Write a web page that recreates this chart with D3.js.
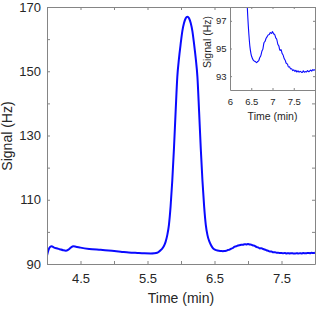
<!DOCTYPE html>
<html>
<head>
<meta charset="utf-8">
<script src="https://cdn.jsdelivr.net/npm/d3@7"></script>
<style>
	body { margin: 0; background: #fff; }
	svg { display: block; font-family: "Liberation Sans", Arial, Helvetica, sans-serif; }
	.axis path { stroke: #858585; fill: none; }
	.axis line { stroke: #858585; }
	.axis text { fill: #262626; }
</style>
</head>
<body>
<div id="chart"></div>
<script>
// time (min) and signal (Hz)
var time = [4.00, 4.02, 4.045, 4.07, 4.10, 4.14, 4.19, 4.24, 4.28, 4.32, 4.36, 4.39, 4.43, 4.50,
	4.63, 4.80, 4.97, 5.10, 5.22, 5.35, 5.45, 5.55, 5.60, 5.645, 5.67, 5.695, 5.72, 5.745, 5.77,
	5.795, 5.82, 5.845, 5.87, 5.895, 5.92, 5.945, 5.97, 5.995, 6.02, 6.045, 6.07, 6.095, 6.12,
	6.145, 6.17, 6.195, 6.22, 6.245, 6.27, 6.295, 6.32, 6.345, 6.37, 6.395, 6.42, 6.445, 6.47,
	6.495, 6.525, 6.565, 6.60, 6.625, 6.65, 6.675, 6.70,
	6.725, 6.75, 6.775, 6.80, 6.825, 6.85, 6.875, 6.90, 6.925, 6.95, 6.975, 7.00, 7.025, 7.05,
	7.075, 7.10, 7.125, 7.15, 7.175, 7.20, 7.225, 7.25, 7.275, 7.30, 7.325, 7.35, 7.375, 7.40,
	7.425, 7.45, 7.475, 7.50, 7.525, 7.55, 7.575, 7.60, 7.625, 7.65, 7.675, 7.70, 7.725, 7.75,
	7.775, 7.80, 7.825, 7.85, 7.875, 7.90, 7.925, 7.95, 7.975, 8.00];
var signal = [92.6, 94.2, 95.3, 95.5, 95.2, 94.9, 94.6, 94.3, 94.15, 94.5, 95.2, 95.5, 95.4, 95.1,
	94.7, 94.4, 94.1, 93.85, 93.6, 93.45, 93.35, 93.3, 93.35, 93.5, 93.8, 94.3, 94.8, 95.6, 96.9,
	99.0, 102.2, 108, 116, 126, 137.5, 148.3, 154, 158.5, 162.5, 165.0, 166.5, 167, 166.5,
	165.0, 162.5, 158.5, 154, 148.3, 137.5, 126, 116, 108, 102.2, 99.0, 97.2, 96.0, 95.1,
	94.6, 94.3, 94.1, 94.05, 93.98, 94.06, 94.12, 94.34,
	94.48, 94.79, 94.98, 95.42, 95.52, 95.74, 95.86, 95.98, 96.02, 96.16, 96.08, 96.22, 96.06, 96.02,
	95.78, 95.66, 95.32, 95.18, 94.86, 94.92, 94.66, 94.52, 94.28, 94.14, 93.92, 93.88, 93.66, 93.68,
	93.52, 93.54, 93.40, 93.46, 93.34, 93.42, 93.30, 93.38, 93.28, 93.36, 93.30, 93.26, 93.38, 93.28,
	93.34, 93.30, 93.40, 93.32, 93.38, 93.44, 93.36, 93.48, 93.42, 93.50];

// axes
var xDomain = [4, 8];
var yDomain = [90, 170];
var xTicks = [4, 4.5, 5, 5.5, 6, 6.5, 7, 7.5, 8];
var xTickLabels = [4.5, 5.5, 6.5, 7.5];
var yTicks = [90, 100, 110, 120, 130, 140, 150, 160, 170];
var yTickLabels = [90, 110, 130, 150, 170];

// inset axes
var insetXDomain = [6, 8];
var insetYDomain = [92, 98];
var insetXTicks = [6, 6.5, 7, 7.5, 8];
var insetXTickLabels = [6, 6.5, 7, 7.5];
var insetYTicks = [93, 95, 97];
var insetYTickLabels = [93, 95, 97];

var data = time.map(function(t, i) {
	return { t: t, v: signal[i] };
});

var width = 320, height = 309;
var main = { left: 47, right: 315, top: 7, bottom: 264 };
var inset = { left: 230, right: 315, top: 7, bottom: 90 };

var svg = d3.select("#chart")
	.append("svg")
	.attr("width", width)
	.attr("height", height);

function labelFormat(labels) {
	return function(d) {
		return labels.indexOf(d) >= 0 ? String(d) : "";
	};
}

function drawPanel(box, xd, yd, xt, xl, yt, yl, opts) {
	var x = d3.scaleLinear().domain(xd).range([box.left, box.right]);
	var y = d3.scaleLinear().domain(yd).range([box.bottom, box.top]);

	var g = svg.append("g");

	g.append("rect")
		.attr("x", box.left)
		.attr("y", box.top)
		.attr("width", box.right - box.left)
		.attr("height", box.bottom - box.top)
		.attr("fill", "#fff");

	var clipId = "clip-" + opts.name;
	g.append("clipPath")
		.attr("id", clipId)
		.append("rect")
		.attr("x", box.left)
		.attr("y", box.top)
		.attr("width", box.right - box.left + 1)
		.attr("height", box.bottom - box.top + 1);

	var line = d3.line()
		.x(function(d) { return x(d.t); })
		.y(function(d) { return y(d.v); })
		.curve(d3.curveMonotoneX);

	g.append("path")
		.datum(data)
		.attr("clip-path", "url(#" + clipId + ")")
		.attr("fill", "none")
		.attr("stroke", "#0a0aff")
		.attr("stroke-width", opts.lineWidth)
		.attr("stroke-linejoin", "round")
		.attr("d", line);

	// ticks point inward, box on all four sides
	g.append("g")
		.attr("class", "axis")
		.attr("transform", "translate(0," + box.bottom + ")")
		.style("font-size", opts.tickFont + "px")
		.call(d3.axisBottom(x).tickValues(xt).tickFormat(labelFormat(xl))
			.tickSizeInner(-opts.tickLen).tickSizeOuter(0).tickPadding(opts.xPad));
	g.append("g")
		.attr("class", "axis")
		.attr("transform", "translate(0," + box.top + ")")
		.call(d3.axisTop(x).tickValues(xt).tickFormat("")
			.tickSizeInner(-opts.tickLen).tickSizeOuter(0));
	g.append("g")
		.attr("class", "axis")
		.attr("transform", "translate(" + box.left + ",0)")
		.style("font-size", opts.tickFont + "px")
		.call(d3.axisLeft(y).tickValues(yt).tickFormat(labelFormat(yl))
			.tickSizeInner(-opts.tickLen).tickSizeOuter(0).tickPadding(opts.yPad));
	g.append("g")
		.attr("class", "axis")
		.attr("transform", "translate(" + box.right + ",0)")
		.call(d3.axisRight(y).tickValues(yt).tickFormat("")
			.tickSizeInner(-opts.tickLen).tickSizeOuter(0));

	g.selectAll(".axis").attr("font-family", null);

	g.append("text")
		.attr("x", (box.left + box.right) / 2)
		.attr("y", opts.xTitleY)
		.attr("text-anchor", "middle")
		.attr("fill", "#262626")
		.style("font-size", opts.titleFont + "px")
		.text("Time (min)");

	g.append("text")
		.attr("transform", "translate(" + opts.yTitleX + "," + opts.yTitleCy + ") rotate(-90)")
		.attr("text-anchor", "middle")
		.attr("fill", "#262626")
		.style("font-size", opts.titleFont + "px")
		.text("Signal (Hz)");
}

drawPanel(main, xDomain, yDomain, xTicks, xTickLabels, yTicks, yTickLabels, {
	name: "main", lineWidth: 2, tickLen: 3, tickFont: 13, titleFont: 14,
	xPad: 10, yPad: 6, xTitleY: 302.5, yTitleX: 12, yTitleCy: 136
});

drawPanel(inset, insetXDomain, insetYDomain, insetXTicks, insetXTickLabels, insetYTicks, insetYTickLabels, {
	name: "inset", lineWidth: 1.1, tickLen: 2, tickFont: 9.5, titleFont: 10.5,
	xPad: 8.5, yPad: 3.5, xTitleY: 119.5, yTitleX: 211, yTitleCy: 42
});
</script>
</body>
</html>
